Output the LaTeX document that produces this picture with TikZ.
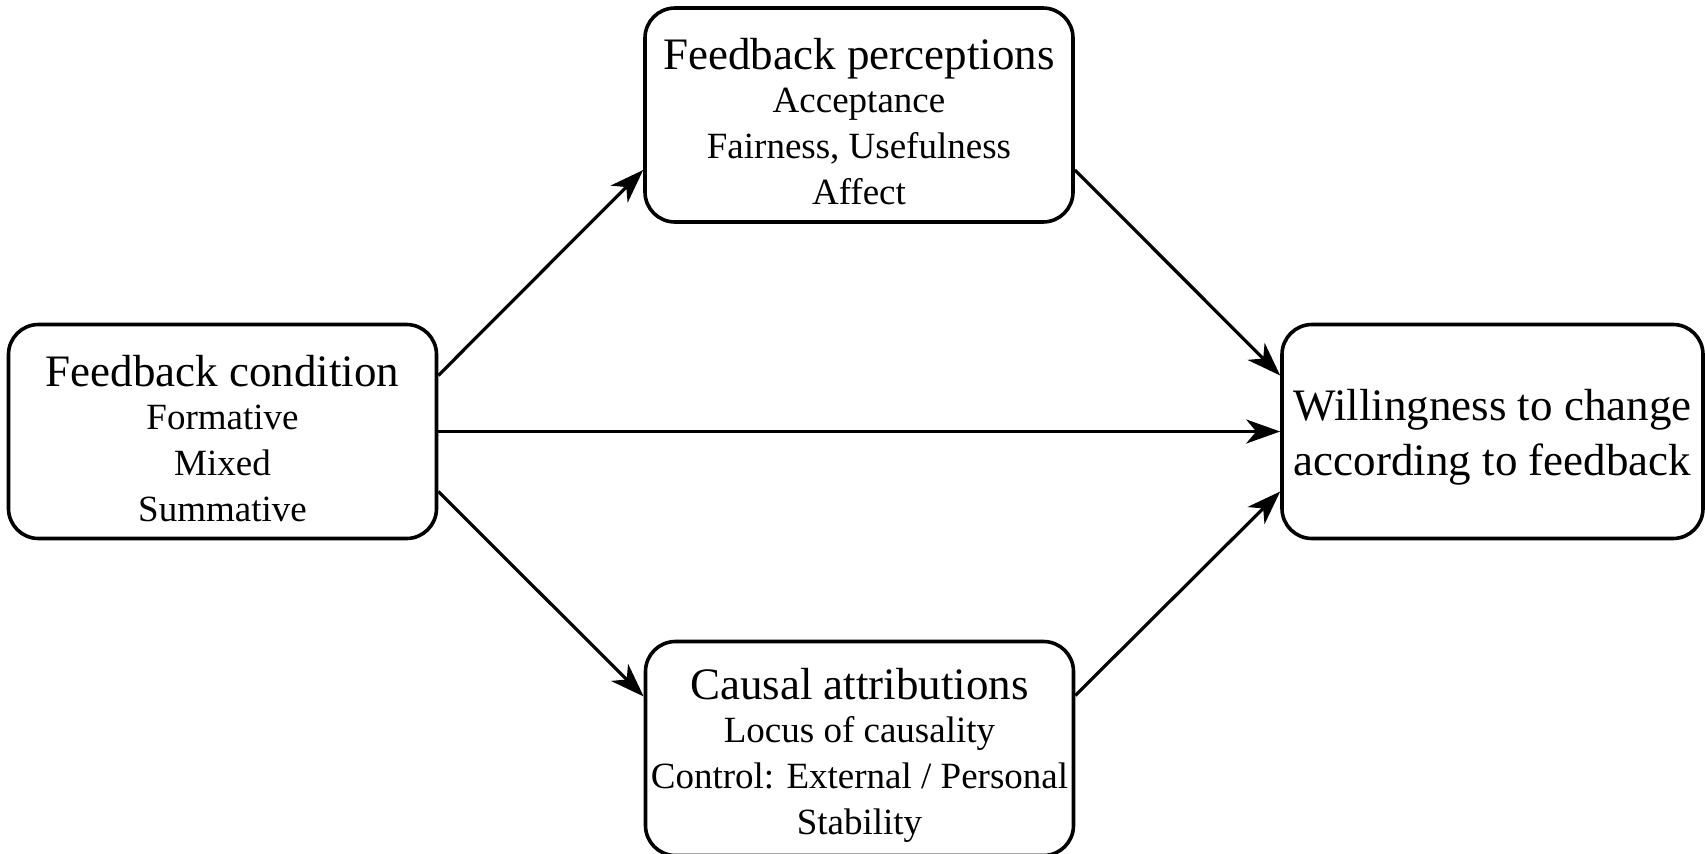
\documentclass[tikz,border=0pt]{standalone}
\usepackage{fontspec}
\setmainfont{Liberation Serif}
\usetikzlibrary{arrows.meta}
\newcommand\boxhead[1]{{\fontsize{22.5pt}{24pt}\selectfont\rule{0pt}{22.5pt}#1}\\[-1.6pt]}
\tikzset{
	box/.style={draw, line width=1.8pt, rounded corners=15pt, inner sep=0pt,
		minimum width=214pt, minimum height=107pt, align=center,
		font=\fontsize{18.5pt}{23pt}\selectfont},
	arr/.style={line width=1.6pt, -{Stealth[length=17pt, width=12pt, inset=5pt]}},
}
\begin{document}
\begin{tikzpicture}[x=.5pt, y=-.5pt]
	\useasboundingbox (0,0) rectangle (1705,853);
	\node[box] (cond) at (222.5,431.5) {\boxhead{Feedback condition}Formative\\Mixed\\Summative};
	\node[box] (perc) at (859,115)     {\boxhead{Feedback perceptions}Acceptance\\Fairness, Usefulness\\Affect};
	\node[box] (caus) at (859.5,748.5) {\boxhead{Causal attributions}Locus of causality\\Control: External / Personal\\Stability};
	\node[box, minimum width=210.5pt, font=\fontsize{22.5pt}{27.5pt}\selectfont]
	           (will) at (1492.5,431.5) {\rule{0pt}{21pt}Willingness to change\\according to feedback};
	% paths
	\draw[arr] ([yshift=28pt]cond.east)    -- ([yshift=-27.5pt]perc.west);
	\draw[arr] (cond.east)                 -- (will.west);
	\draw[arr] ([yshift=-30pt]cond.east)   -- ([yshift=26pt]caus.west);
	\draw[arr] ([yshift=-27.5pt]perc.east) -- ([yshift=28pt]will.west);
	\draw[arr] ([yshift=26.5pt]caus.east)  -- ([yshift=-30pt]will.west);
\end{tikzpicture}
\end{document}
